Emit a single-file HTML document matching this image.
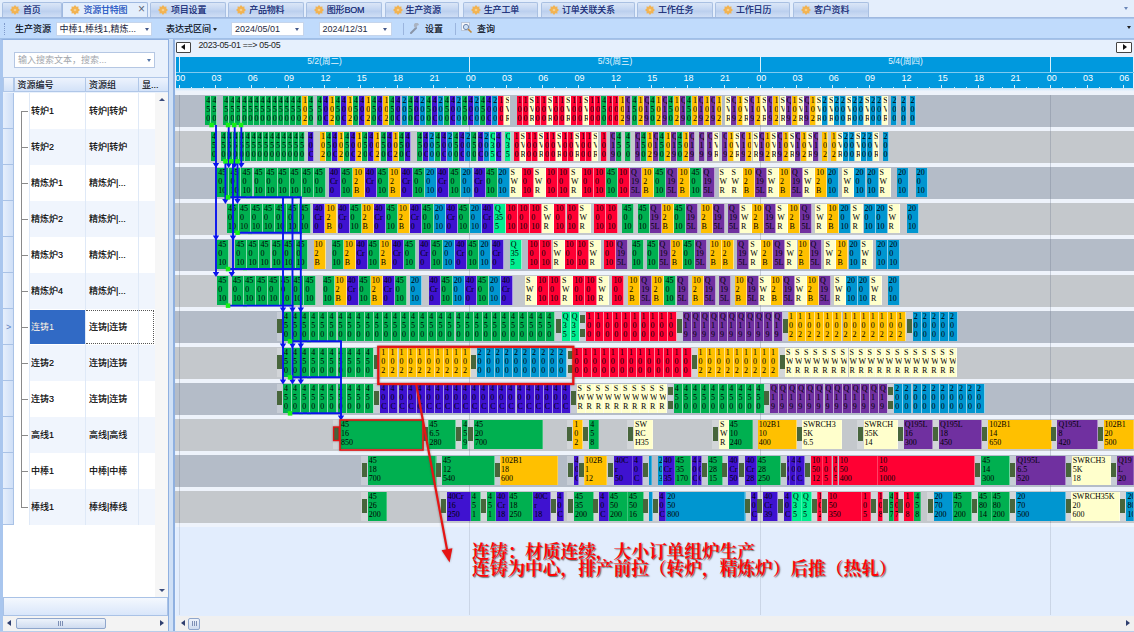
<!DOCTYPE html>
<html><head><meta charset="utf-8"><title>资源甘特图</title>
<style>
*{box-sizing:border-box;margin:0;padding:0}
html,body{width:1134px;height:632px;overflow:hidden;background:#cfe0f6;font-family:"Liberation Sans","Noto Sans CJK SC",sans-serif;font-size:9px;color:#1e2a44}
div,i,b,s,u,em,span{position:absolute}
i,em,u{font-style:normal;text-decoration:none}
/* tabs */
#tabs{left:0;top:0;width:1134px;height:18px;background:#e4eefc}
.tab{top:1.5px;height:16px;width:75.5px;background:linear-gradient(#dbe6f7,#c3d5f1 45%,#bbcfee 55%,#d3e1f6);border:1px solid #a9c0e2;border-bottom:none;border-radius:2px 2px 0 0;line-height:15px;white-space:nowrap}
.tab span{left:20px;top:0;font-size:9px;color:#1c2f78;letter-spacing:-.2px;text-shadow:0 0 .4px rgba(28,47,120,.7)}
.tab.act{background:#e3eefc;border-color:#9fb9e0;height:17px}
.tab.act span{color:#2a5fd0}
.sun{left:7px;top:2.5px;width:10px;height:10px}
#tabline{left:0;top:17px;width:1134px;height:1px;background:#9fb9e0}
/* toolbar */
#tb{left:0;top:17.5px;width:1134px;height:21px;background:#c0dbfc;border-bottom:1px solid #9fbfe8;border-top:1px solid #a9c4ea}
#tb span{top:0;line-height:21px;white-space:nowrap;font-size:9px;color:#141a2a;text-shadow:0 0 .4px rgba(0,0,0,.6)}
.cb{top:3px;height:14px;background:#fff;border:1px solid #c5d5ec;line-height:12px;font-size:9px;white-space:nowrap;overflow:hidden;padding-left:3px}
.arr{width:0;height:0;border-left:2.5px solid transparent;border-right:2.5px solid transparent;border-top:3px solid #44598a}
/* left panel */
#left{left:0;top:39px;width:169px;height:593px;background:#e9f1fc;border:1px solid #8fb0e0;border-left:3px solid #a9c6ee}
#grid{left:0;top:53px;width:165px;height:504px;background:#fff}
.gh{color:#141a2a;text-shadow:0 0 .4px rgba(0,0,0,.5);top:37px;height:15px;background:linear-gradient(#edf3fd,#d3e2f8);border:1px solid #b0c7e8;line-height:14px;padding-left:3px;font-size:9px;white-space:nowrap;overflow:hidden}
.ind{left:0;width:11px;height:36px;background:linear-gradient(90deg,#e6effc,#cfdff7);border-bottom:1px solid #a9c2e6;border-right:1px solid #a9c2e6}
.gr{left:11px;width:141px;height:36px;line-height:36px;font-size:9px;white-space:nowrap;color:#141414;text-shadow:0 0 .4px rgba(0,0,0,.6)}
.gr.alt{background:linear-gradient(90deg,transparent 14.5px,#f0f5fd 14.5px)}
.gr span{top:0}
.gr .c1{left:17px}.gr .c2{left:75px}
.cs{top:0;width:1px;height:432px;background:#dfe9f7}
/* gantt */
#g{left:173px;top:38.5px;width:961px;height:593.5px;background:#e6f0fd;border-left:2px solid #8fb0e0;border-top:1px solid #a9c2e6}
#page{left:0;top:0;width:1134px;height:632px;overflow:hidden}
#hd{left:175.5px;top:56.5px;width:957.5px;height:31.5px;background:#0099de;overflow:hidden}
#hdw{left:-175.5px;top:-56.5px;width:1134px;height:100px}
#hd s{background:rgba(255,255,255,.85);width:1px;text-decoration:none}
.t1{top:86.5px;height:1.5px}.t3{top:85px;height:3px}
.dl{top:57px;height:15.5px}
#hd u{top:74px;margin-left:.9px;width:20px;text-align:center;color:#fff;font-size:9px;line-height:9px}
#hd em{top:56.3px;width:80px;text-align:center;color:#e4f4fd;font-size:8.5px;line-height:10px}
#hsep{left:175.5px;top:72px;width:959px;height:1px;background:#7fcaf0}
#sub{left:175.5px;top:88px;width:959px;height:7px;background:linear-gradient(#bfe3f7,#e9f1fc 40%)}
.band{left:175px;width:959px;height:32px}
.gap{left:175.5px;width:959px;height:4px;background:#eef3fb}
.row{left:0;width:1134px;height:28.7px;overflow:hidden}
.row i{top:0;height:28.7px;font-family:"Liberation Serif",serif;font-size:8px;line-height:9.1px;color:#000;overflow:hidden;padding-left:1px;white-space:nowrap;border-right:1px solid rgba(255,255,255,.55)}
.wd{border-right-color:rgba(255,255,255,.25)!important}
.w6{width:6.05px}.w9{width:9.08px}.w12{width:12.05px}
.w6,.w9{padding-left:.8px}
.g{background:#00b050}.y{background:#ffc000}.p{background:#3f12d0}.c{background:#0096d0}.r{background:#ff0033}.l{background:#ffffcc}.d{background:#7030a0}.m{background:#00ee90}
.o{top:0;width:6.8px;height:28.7px;margin-left:-1.1px;background:linear-gradient(#47653b,#47653b) center 6.6px/5px 14.2px no-repeat,rgba(255,255,255,.24)}
.o2{background:linear-gradient(#47653b,#47653b) center 3px/5px 8px no-repeat,linear-gradient(#47653b,#47653b) center 17px/5px 8px no-repeat,rgba(255,255,255,.24)}
.vl{top:95px;width:1px;height:520px;background:linear-gradient(rgba(110,120,140,.32) 428px,rgba(110,120,140,.2) 428px);text-decoration:none}
#below{left:175.5px;top:523.5px;width:959px;height:92px;background:#e2edfd}
#sb{left:175.5px;top:615.5px;width:959px;height:15px;background:#f0f0f0}
#bot{left:0;top:630.5px;width:1134px;height:2px;background:#b9cdea}
#note{left:472px;top:543.5px;font-family:"Liberation Serif","Noto Serif CJK SC",serif;font-weight:700;font-size:17.7px;line-height:17.6px;color:#ff0505;white-space:nowrap;text-shadow:1px 1px 1.2px rgba(60,60,60,.8)}
.cj{font-family:"Liberation Sans","Noto Sans CJK SC",sans-serif}
</style></head><body><div id="page">
<div id="tabs"><div class="tab" style="left:2px;width:59.5px"><svg class="sun" style="position:absolute" viewBox="0 0 10 10"><path d="M10.0 5.0L8.3 6.4L8.5 8.5L6.4 8.3L5.0 10.0L3.6 8.3L1.5 8.5L1.7 6.4L0.0 5.0L1.7 3.6L1.5 1.5L3.6 1.7L5.0 0.0L6.4 1.7L8.5 1.5L8.3 3.6z" fill="#f2b352"/><circle cx="5" cy="5" r="1.3" fill="#f8cf8a"/></svg><span class="cj">首页</span></div><div class="tab act" style="left:62.4px;width:86px"><svg class="sun" style="position:absolute" viewBox="0 0 10 10"><path d="M10.0 5.0L8.3 6.4L8.5 8.5L6.4 8.3L5.0 10.0L3.6 8.3L1.5 8.5L1.7 6.4L0.0 5.0L1.7 3.6L1.5 1.5L3.6 1.7L5.0 0.0L6.4 1.7L8.5 1.5L8.3 3.6z" fill="#f2b352"/><circle cx="5" cy="5" r="1.3" fill="#f8cf8a"/></svg><span class="cj">资源甘特图</span><span style="left:74.5px;top:-.5px;color:#5a6478;font-size:12px;text-shadow:none">×</span></div><div class="tab" style="left:150px;width:75.5px"><svg class="sun" style="position:absolute" viewBox="0 0 10 10"><path d="M10.0 5.0L8.3 6.4L8.5 8.5L6.4 8.3L5.0 10.0L3.6 8.3L1.5 8.5L1.7 6.4L0.0 5.0L1.7 3.6L1.5 1.5L3.6 1.7L5.0 0.0L6.4 1.7L8.5 1.5L8.3 3.6z" fill="#f2b352"/><circle cx="5" cy="5" r="1.3" fill="#f8cf8a"/></svg><span class="cj">项目设置</span></div><div class="tab" style="left:228.2px;width:75.5px"><svg class="sun" style="position:absolute" viewBox="0 0 10 10"><path d="M10.0 5.0L8.3 6.4L8.5 8.5L6.4 8.3L5.0 10.0L3.6 8.3L1.5 8.5L1.7 6.4L0.0 5.0L1.7 3.6L1.5 1.5L3.6 1.7L5.0 0.0L6.4 1.7L8.5 1.5L8.3 3.6z" fill="#f2b352"/><circle cx="5" cy="5" r="1.3" fill="#f8cf8a"/></svg><span class="cj">产品物料</span></div><div class="tab" style="left:305.8px;width:76.5px"><svg class="sun" style="position:absolute" viewBox="0 0 10 10"><path d="M10.0 5.0L8.3 6.4L8.5 8.5L6.4 8.3L5.0 10.0L3.6 8.3L1.5 8.5L1.7 6.4L0.0 5.0L1.7 3.6L1.5 1.5L3.6 1.7L5.0 0.0L6.4 1.7L8.5 1.5L8.3 3.6z" fill="#f2b352"/><circle cx="5" cy="5" r="1.3" fill="#f8cf8a"/></svg><span class="cj">图形BOM</span></div><div class="tab" style="left:384.5px;width:74px"><svg class="sun" style="position:absolute" viewBox="0 0 10 10"><path d="M10.0 5.0L8.3 6.4L8.5 8.5L6.4 8.3L5.0 10.0L3.6 8.3L1.5 8.5L1.7 6.4L0.0 5.0L1.7 3.6L1.5 1.5L3.6 1.7L5.0 0.0L6.4 1.7L8.5 1.5L8.3 3.6z" fill="#f2b352"/><circle cx="5" cy="5" r="1.3" fill="#f8cf8a"/></svg><span class="cj">生产资源</span></div><div class="tab" style="left:462.8px;width:75.5px"><svg class="sun" style="position:absolute" viewBox="0 0 10 10"><path d="M10.0 5.0L8.3 6.4L8.5 8.5L6.4 8.3L5.0 10.0L3.6 8.3L1.5 8.5L1.7 6.4L0.0 5.0L1.7 3.6L1.5 1.5L3.6 1.7L5.0 0.0L6.4 1.7L8.5 1.5L8.3 3.6z" fill="#f2b352"/><circle cx="5" cy="5" r="1.3" fill="#f8cf8a"/></svg><span class="cj">生产工单</span></div><div class="tab" style="left:541px;width:93.6px"><svg class="sun" style="position:absolute" viewBox="0 0 10 10"><path d="M10.0 5.0L8.3 6.4L8.5 8.5L6.4 8.3L5.0 10.0L3.6 8.3L1.5 8.5L1.7 6.4L0.0 5.0L1.7 3.6L1.5 1.5L3.6 1.7L5.0 0.0L6.4 1.7L8.5 1.5L8.3 3.6z" fill="#f2b352"/><circle cx="5" cy="5" r="1.3" fill="#f8cf8a"/></svg><span class="cj">订单关联关系</span></div><div class="tab" style="left:637px;width:75.5px"><svg class="sun" style="position:absolute" viewBox="0 0 10 10"><path d="M10.0 5.0L8.3 6.4L8.5 8.5L6.4 8.3L5.0 10.0L3.6 8.3L1.5 8.5L1.7 6.4L0.0 5.0L1.7 3.6L1.5 1.5L3.6 1.7L5.0 0.0L6.4 1.7L8.5 1.5L8.3 3.6z" fill="#f2b352"/><circle cx="5" cy="5" r="1.3" fill="#f8cf8a"/></svg><span class="cj">工作任务</span></div><div class="tab" style="left:715px;width:75px"><svg class="sun" style="position:absolute" viewBox="0 0 10 10"><path d="M10.0 5.0L8.3 6.4L8.5 8.5L6.4 8.3L5.0 10.0L3.6 8.3L1.5 8.5L1.7 6.4L0.0 5.0L1.7 3.6L1.5 1.5L3.6 1.7L5.0 0.0L6.4 1.7L8.5 1.5L8.3 3.6z" fill="#f2b352"/><circle cx="5" cy="5" r="1.3" fill="#f8cf8a"/></svg><span class="cj">工作日历</span></div><div class="tab" style="left:793px;width:76px"><svg class="sun" style="position:absolute" viewBox="0 0 10 10"><path d="M10.0 5.0L8.3 6.4L8.5 8.5L6.4 8.3L5.0 10.0L3.6 8.3L1.5 8.5L1.7 6.4L0.0 5.0L1.7 3.6L1.5 1.5L3.6 1.7L5.0 0.0L6.4 1.7L8.5 1.5L8.3 3.6z" fill="#f2b352"/><circle cx="5" cy="5" r="1.3" fill="#f8cf8a"/></svg><span class="cj">客户资料</span></div><div class="arr" style="left:1123.5px;top:7px;border-top-color:#6a86b8"></div></div><div id="tabline"></div>
<div id="tb">
<div style="left:4px;top:4px;width:1px;height:12px;border-left:1px dotted #7f9acb"></div>
<span class="cj" style="left:15px">生产资源</span>
<div class="cb cj" style="left:55.5px;width:96px;line-height:13.4px">中棒1,棒线1,精炼...</div><div class="arr" style="left:145px;top:9px"></div>
<span class="cj" style="left:166px">表达式区间</span><div class="arr" style="left:213px;top:9px;border-top-color:#222"></div>
<div class="cb" style="left:231px;width:72.5px">2024/05/01</div><div class="arr" style="left:295px;top:9px"></div>
<div class="cb" style="left:318.5px;width:73px">2024/12/31</div><div class="arr" style="left:383px;top:9px"></div>
<div style="left:403px;top:4px;width:1px;height:12px;background:#9bb5de"></div>
<svg style="position:absolute;left:410px;top:4px" width="11" height="11" viewBox="0 0 11 11"><path d="M1 10L6 5" stroke="#8a95a8" stroke-width="2" stroke-linecap="round"/><path d="M6 5a2.6 2.6 0 1 1 3-3l-1.6.4-.6 1.4z" fill="#aab3c2"/></svg>
<span class="cj" style="left:425px">设置</span>
<div style="left:454.5px;top:4px;width:1px;height:12px;background:#9bb5de"></div>
<svg style="position:absolute;left:461px;top:3px" width="12" height="12" viewBox="0 0 12 12"><rect x=".5" y=".5" width="8" height="8" fill="#f4f6fa" stroke="#9aa6ba" stroke-dasharray="1 1"/><circle cx="5" cy="5" r="2.6" fill="#cfe2f7" stroke="#6f86ad"/><path d="M7 7l3.5 3.5" stroke="#c08a3a" stroke-width="1.6"/></svg>
<span class="cj" style="left:477px">查询</span>
<div class="arr" style="left:1127px;top:7.5px;border-top-color:#222"></div>
</div>
<div id="left"><div style="left:11px;top:12px;width:141px;height:15.5px;background:#fff;border:1px solid #b5c7e3;line-height:14.4px;padding-left:3px;color:#a3a7ad;font-size:9px;white-space:nowrap" class="cj">输入搜索文本，搜索...</div><div class="arr" style="left:144px;top:19px;border-top-color:#5577aa"></div><div class="gh" style="left:0;width:11px"></div><div class="gh cj" style="left:10.5px;width:72.5px">资源编号</div><div class="gh cj" style="left:82px;width:54px">资源组</div><div class="gh cj" style="left:135px;width:30px;border-right:none">显...</div><div id="grid"><div class="ind" style="top:0px"></div><div class="gr" style="top:0px"><span class="c1 cj">转炉1</span><span class="c2 cj">转炉|转炉</span></div><div class="ind" style="top:36px"></div><div class="gr alt" style="top:36px"><span class="c1 cj">转炉2</span><span class="c2 cj">转炉|转炉</span></div><div class="ind" style="top:72px"></div><div class="gr" style="top:72px"><span class="c1 cj">精炼炉1</span><span class="c2 cj">精炼炉|...</span></div><div class="ind" style="top:108px"></div><div class="gr alt" style="top:108px"><span class="c1 cj">精炼炉2</span><span class="c2 cj">精炼炉|...</span></div><div class="ind" style="top:144px"></div><div class="gr" style="top:144px"><span class="c1 cj">精炼炉3</span><span class="c2 cj">精炼炉|...</span></div><div class="ind" style="top:180px"></div><div class="gr alt" style="top:180px"><span class="c1 cj">精炼炉4</span><span class="c2 cj">精炼炉|...</span></div><div class="ind" style="top:216px"></div><div class="gr" style="top:216px"><div style="left:14.5px;top:1px;width:57px;height:34px;background:#316ac5"></div><div style="left:71.5px;top:1px;width:68.5px;height:34px;background:#fff;border:1px dotted #555;border-left:none"></div><span class="c1 cj" style="color:#fff">连铸1</span><span class="c2 cj">连铸|连铸</span></div><div class="ind" style="top:252px"></div><div class="gr alt" style="top:252px"><span class="c1 cj">连铸2</span><span class="c2 cj">连铸|连铸</span></div><div class="ind" style="top:288px"></div><div class="gr" style="top:288px"><span class="c1 cj">连铸3</span><span class="c2 cj">连铸|连铸</span></div><div class="ind" style="top:324px"></div><div class="gr alt" style="top:324px"><span class="c1 cj">高线1</span><span class="c2 cj">高线|高线</span></div><div class="ind" style="top:360px"></div><div class="gr" style="top:360px"><span class="c1 cj">中棒1</span><span class="c2 cj">中棒|中棒</span></div><div class="ind" style="top:396px"></div><div class="gr alt" style="top:396px"><span class="c1 cj">棒线1</span><span class="c2 cj">棒线|棒线</span></div><div class="cs" style="left:25.5px"></div><div class="cs" style="left:82px"></div><div class="cs" style="left:135px"></div><div style="left:18px;top:18px;width:1px;height:396px;background:#8a8a8a"></div><div style="left:18px;top:18px;width:7px;height:1px;background:#8a8a8a"></div><div style="left:18px;top:54px;width:7px;height:1px;background:#8a8a8a"></div><div style="left:18px;top:90px;width:7px;height:1px;background:#8a8a8a"></div><div style="left:18px;top:126px;width:7px;height:1px;background:#8a8a8a"></div><div style="left:18px;top:162px;width:7px;height:1px;background:#8a8a8a"></div><div style="left:18px;top:198px;width:7px;height:1px;background:#8a8a8a"></div><div style="left:18px;top:234px;width:7px;height:1px;background:#8a8a8a"></div><div style="left:18px;top:270px;width:7px;height:1px;background:#8a8a8a"></div><div style="left:18px;top:306px;width:7px;height:1px;background:#8a8a8a"></div><div style="left:18px;top:342px;width:7px;height:1px;background:#8a8a8a"></div><div style="left:18px;top:378px;width:7px;height:1px;background:#8a8a8a"></div><div style="left:18px;top:414px;width:7px;height:1px;background:#8a8a8a"></div><span style="left:3px;top:229px;color:#5b7fc0;font-size:9px">&gt;</span><div style="left:152px;top:0;width:13px;height:504px;background:#f6f6f6"></div><div style="left:155.5px;top:5px;width:0;height:0;border-left:3px solid transparent;border-right:3px solid transparent;border-bottom:3.5px solid #3a4a7a"></div><div style="left:155.5px;top:496px;width:0;height:0;border-left:3px solid transparent;border-right:3px solid transparent;border-top:3.5px solid #3a4a7a"></div></div><div style="left:0;top:557px;width:165px;height:19px;background:linear-gradient(#f4f8fe,#d9e6fa);border:1px solid #a9c2e6"></div><div style="left:0;top:576px;width:165px;height:15px;background:#f3f3f3"></div><div style="left:13px;top:577.5px;width:90px;height:11px;background:linear-gradient(#eef3fb,#cfdcf0);border:1px solid #8fa6cc;border-radius:2px"></div><div style="left:55px;top:580.5px;width:5px;height:5px;background:repeating-linear-gradient(90deg,#7d8fb5 0 1px,transparent 1px 2px)"></div><div style="left:4px;top:579.5px;width:0;height:0;border-top:3.5px solid transparent;border-bottom:3.5px solid transparent;border-right:4px solid #2f3f6f"></div><div style="left:157px;top:579.5px;width:0;height:0;border-top:3.5px solid transparent;border-bottom:3.5px solid transparent;border-left:4px solid #2f3f6f"></div></div>
<div id="g"></div>
<div id="hd"><div id="hdw">
<s class="t3" style="left:178.8px"></s>
<u style="left:169.3px">00</u>
<s class="t1" style="left:190.9px"></s>
<s class="t1" style="left:203px"></s>
<s class="t3" style="left:215.1px"></s>
<u style="left:205.6px">03</u>
<s class="t1" style="left:227.2px"></s>
<s class="t1" style="left:239.3px"></s>
<s class="t3" style="left:251.4px"></s>
<u style="left:241.9px">06</u>
<s class="t1" style="left:263.5px"></s>
<s class="t1" style="left:275.6px"></s>
<s class="t3" style="left:287.7px"></s>
<u style="left:278.2px">09</u>
<s class="t1" style="left:299.8px"></s>
<s class="t1" style="left:311.9px"></s>
<s class="t3" style="left:324px"></s>
<u style="left:314.5px">12</u>
<s class="t1" style="left:336.2px"></s>
<s class="t1" style="left:348.3px"></s>
<s class="t3" style="left:360.4px"></s>
<u style="left:350.9px">15</u>
<s class="t1" style="left:372.5px"></s>
<s class="t1" style="left:384.6px"></s>
<s class="t3" style="left:396.7px"></s>
<u style="left:387.2px">18</u>
<s class="t1" style="left:408.8px"></s>
<s class="t1" style="left:420.9px"></s>
<s class="t3" style="left:433px"></s>
<u style="left:423.5px">21</u>
<s class="t1" style="left:445.1px"></s>
<s class="t1" style="left:457.2px"></s>
<s class="t3" style="left:469.3px"></s>
<u style="left:459.8px">00</u>
<s class="t1" style="left:481.4px"></s>
<s class="t1" style="left:493.5px"></s>
<s class="t3" style="left:505.6px"></s>
<u style="left:496.1px">03</u>
<s class="t1" style="left:517.7px"></s>
<s class="t1" style="left:529.8px"></s>
<s class="t3" style="left:541.9px"></s>
<u style="left:532.4px">06</u>
<s class="t1" style="left:554px"></s>
<s class="t1" style="left:566.1px"></s>
<s class="t3" style="left:578.2px"></s>
<u style="left:568.7px">09</u>
<s class="t1" style="left:590.3px"></s>
<s class="t1" style="left:602.4px"></s>
<s class="t3" style="left:614.5px"></s>
<u style="left:605px">12</u>
<s class="t1" style="left:626.6px"></s>
<s class="t1" style="left:638.8px"></s>
<s class="t3" style="left:650.9px"></s>
<u style="left:641.4px">15</u>
<s class="t1" style="left:663px"></s>
<s class="t1" style="left:675.1px"></s>
<s class="t3" style="left:687.2px"></s>
<u style="left:677.7px">18</u>
<s class="t1" style="left:699.3px"></s>
<s class="t1" style="left:711.4px"></s>
<s class="t3" style="left:723.5px"></s>
<u style="left:714px">21</u>
<s class="t1" style="left:735.6px"></s>
<s class="t1" style="left:747.7px"></s>
<s class="t3" style="left:759.8px"></s>
<u style="left:750.3px">00</u>
<s class="t1" style="left:771.9px"></s>
<s class="t1" style="left:784px"></s>
<s class="t3" style="left:796.1px"></s>
<u style="left:786.6px">03</u>
<s class="t1" style="left:808.2px"></s>
<s class="t1" style="left:820.3px"></s>
<s class="t3" style="left:832.4px"></s>
<u style="left:822.9px">06</u>
<s class="t1" style="left:844.5px"></s>
<s class="t1" style="left:856.6px"></s>
<s class="t3" style="left:868.7px"></s>
<u style="left:859.2px">09</u>
<s class="t1" style="left:880.8px"></s>
<s class="t1" style="left:892.9px"></s>
<s class="t3" style="left:905px"></s>
<u style="left:895.5px">12</u>
<s class="t1" style="left:917.1px"></s>
<s class="t1" style="left:929.2px"></s>
<s class="t3" style="left:941.4px"></s>
<u style="left:931.9px">15</u>
<s class="t1" style="left:953.5px"></s>
<s class="t1" style="left:965.6px"></s>
<s class="t3" style="left:977.7px"></s>
<u style="left:968.2px">18</u>
<s class="t1" style="left:989.8px"></s>
<s class="t1" style="left:1001.9px"></s>
<s class="t3" style="left:1014px"></s>
<u style="left:1004.5px">21</u>
<s class="t1" style="left:1026.1px"></s>
<s class="t1" style="left:1038.2px"></s>
<s class="t3" style="left:1050.3px"></s>
<u style="left:1040.8px">00</u>
<s class="t1" style="left:1062.4px"></s>
<s class="t1" style="left:1074.5px"></s>
<s class="t3" style="left:1086.6px"></s>
<u style="left:1077.1px">03</u>
<s class="t1" style="left:1098.7px"></s>
<s class="t1" style="left:1110.8px"></s>
<s class="t3" style="left:1122.9px"></s>
<u style="left:1113.4px">06</u>
<s class="dl" style="left:178.8px"></s>
<em class="cj" style="left:284.5px">5/2(周二)</em>
<s class="dl" style="left:469.3px"></s>
<em class="cj" style="left:575px">5/3(周三)</em>
<s class="dl" style="left:759.8px"></s>
<em class="cj" style="left:865.5px">5/4(周四)</em>
<s class="dl" style="left:1050.3px"></s>
</div></div>
<div id="hsep"></div>
<div id="sub"></div>
<div style="left:176px;top:41.8px;width:15.3px;height:11px;background:#fff;border:1px solid #444;border-radius:1px"></div>
<div style="left:181px;top:44.3px;width:0;height:0;border-top:3px solid transparent;border-bottom:3px solid transparent;border-right:4px solid #111"></div>
<div style="left:1116.2px;top:41.8px;width:15.5px;height:11px;background:#fff;border:1px solid #444;border-radius:1px"></div>
<div style="left:1122.5px;top:44.3px;width:0;height:0;border-top:3px solid transparent;border-bottom:3px solid transparent;border-left:4px solid #111"></div>
<span style="left:198.5px;top:40px;font-size:8.8px;letter-spacing:-.3px;line-height:10px;color:#222;white-space:nowrap">2023-05-01 ==&gt; 05-05</span>
<div id="below"></div>
<div class="gap" style="top:91px"></div><div class="gap" style="top:127px"></div><div class="gap" style="top:163px"></div><div class="gap" style="top:199px"></div><div class="gap" style="top:235px"></div><div class="gap" style="top:271px"></div><div class="gap" style="top:307px"></div><div class="gap" style="top:343px"></div><div class="gap" style="top:379px"></div><div class="gap" style="top:415px"></div><div class="gap" style="top:451px"></div><div class="gap" style="top:487px"></div><div class="gap" style="top:523px"></div><div class="band" style="top:95px;background:#b4bcc8"></div><div class="band" style="top:131px;background:#c4c8cc"></div><div class="band" style="top:167px;background:#b4bcc8"></div><div class="band" style="top:203px;background:#c4c8cc"></div><div class="band" style="top:239px;background:#b4bcc8"></div><div class="band" style="top:275px;background:#c4c8cc"></div><div class="band" style="top:311px;background:#b4bcc8"></div><div class="band" style="top:347px;background:#c4c8cc"></div><div class="band" style="top:383px;background:#b4bcc8"></div><div class="band" style="top:419px;background:#c4c8cc"></div><div class="band" style="top:455px;background:#b4bcc8"></div><div class="band" style="top:491px;background:#c4c8cc"></div><s class="vl" style="left:178.8px"></s><s class="vl" style="left:469.3px"></s><s class="vl" style="left:759.8px"></s><s class="vl" style="left:1050.3px"></s>
<div class="row" style="top:96.2px"><i class="g w6" style="left:205.3px">4<br>5<br>0</i><i class="g w6" style="left:211.4px">4<br>5<br>0</i><i class="g w6" style="left:223.3px">4<br>5<br>0</i><i class="g w6" style="left:229.4px">4<br>5<br>0</i><i class="g w6" style="left:235.4px">4<br>5<br>0</i><i class="g w6" style="left:241.5px">4<br>5<br>0</i><i class="g w6" style="left:247.5px">4<br>5<br>0</i><i class="g w6" style="left:253.6px">4<br>5<br>0</i><i class="g w6" style="left:259.6px">4<br>5<br>0</i><i class="g w6" style="left:265.7px">4<br>5<br>0</i><i class="g w6" style="left:271.7px">4<br>5<br>0</i><i class="g w6" style="left:277.8px">4<br>5<br>0</i><i class="g w6" style="left:283.8px">4<br>5<br>0</i><i class="g w6" style="left:289.9px">4<br>5<br>0</i><i class="g w6" style="left:295.9px">4<br>5<br>0</i><i class="y w6" style="left:301.9px">1<br>0<br>2</i><i class="g w6" style="left:308px">4<br>5<br>0</i><i class="g w6" style="left:316.8px">4<br>5<br>0</i><i class="p w6" style="left:322.9px">4<br>0<br>C</i><i class="y w6" style="left:328.9px">1<br>0<br>2</i><i class="g w6" style="left:334.9px">4<br>5<br>0</i><i class="p w6" style="left:341px">4<br>0<br>C</i><i class="y w6" style="left:347.1px">1<br>0<br>2</i><i class="g w6" style="left:353.1px">4<br>5<br>0</i><i class="p w6" style="left:359.2px">4<br>0<br>C</i><i class="y w6" style="left:365.2px">1<br>0<br>2</i><i class="g w6" style="left:371.2px">4<br>5<br>0</i><i class="p w6" style="left:377.3px">4<br>0<br>C</i><i class="y w6" style="left:383.4px">1<br>0<br>2</i><i class="g w6" style="left:389.4px">4<br>5<br>0</i><i class="p w6" style="left:395.4px">4<br>0<br>C</i><i class="c w6" style="left:401.5px">2<br>0<br>0</i><i class="g w6" style="left:407.6px">4<br>5<br>0</i><i class="p w6" style="left:413.6px">4<br>0<br>C</i><i class="c w6" style="left:419.6px">2<br>0<br>0</i><i class="g w6" style="left:425.7px">4<br>5<br>0</i><i class="p w6" style="left:431.8px">4<br>0<br>C</i><i class="c w6" style="left:437.8px">2<br>0<br>0</i><i class="g w6" style="left:443.9px">4<br>5<br>0</i><i class="p w6" style="left:449.9px">4<br>0<br>C</i><i class="c w6" style="left:456px">2<br>0<br>0</i><i class="g w6" style="left:462px">4<br>5<br>0</i><i class="p w6" style="left:468.1px">4<br>0<br>C</i><i class="c w6" style="left:474.1px">2<br>0<br>0</i><i class="g w6" style="left:480.1px">4<br>5<br>0</i><i class="p w6" style="left:486.2px">4<br>0<br>C</i><i class="c w6" style="left:492.2px">2<br>0<br>0</i><i class="r w6" style="left:498.3px">1<br>0<br>0</i><i class="l w6" style="left:504.4px">S<br>V<br>R</i><i class="r w6" style="left:516.5px">1<br>0<br>0</i><i class="r w6" style="left:522.5px">1<br>0<br>0</i><i class="l w6" style="left:528.6px">S<br>V<br>R</i><i class="r w6" style="left:534.6px">1<br>0<br>0</i><i class="r w6" style="left:540.7px">1<br>0<br>0</i><i class="l w6" style="left:546.8px">S<br>V<br>R</i><i class="r w6" style="left:552.8px">1<br>0<br>0</i><i class="r w6" style="left:558.9px">1<br>0<br>0</i><i class="l w6" style="left:564.9px">S<br>V<br>R</i><i class="r w6" style="left:571px">1<br>0<br>0</i><i class="r w6" style="left:577px">1<br>0<br>0</i><i class="l w6" style="left:583px">S<br>V<br>R</i><i class="r w6" style="left:589.1px">1<br>0<br>0</i><i class="r w6" style="left:595.1px">1<br>0<br>0</i><i class="g w6" style="left:601.2px">4<br>5<br>0</i><i class="r w6" style="left:607.2px">1<br>0<br>0</i><i class="r w6" style="left:613.3px">1<br>0<br>0</i><i class="y w6" style="left:619.4px">1<br>0<br>2</i><i class="d w6" style="left:625.4px">Q<br>1<br>9</i><i class="g w6" style="left:631.5px">4<br>5<br>0</i><i class="y w6" style="left:637.5px">1<br>0<br>2</i><i class="d w6" style="left:643.5px">Q<br>1<br>9</i><i class="g w6" style="left:649.6px">4<br>5<br>0</i><i class="y w6" style="left:655.6px">1<br>0<br>2</i><i class="d w6" style="left:661.7px">Q<br>1<br>9</i><i class="g w6" style="left:667.8px">4<br>5<br>0</i><i class="y w6" style="left:673.8px">1<br>0<br>2</i><i class="d w6" style="left:679.9px">Q<br>1<br>9</i><i class="g w6" style="left:685.9px">4<br>5<br>0</i><i class="y w6" style="left:692px">1<br>0<br>2</i><i class="d w6" style="left:698px">Q<br>1<br>9</i><i class="y w6" style="left:704px">1<br>0<br>2</i><i class="d w6" style="left:710.1px">Q<br>1<br>9</i><i class="y w6" style="left:716.1px">1<br>0<br>2</i><i class="l w6" style="left:725px">S<br>V<br>R</i><i class="d w6" style="left:731px">Q<br>1<br>9</i><i class="y w6" style="left:737.1px">1<br>0<br>2</i><i class="l w6" style="left:743.1px">S<br>V<br>R</i><i class="d w6" style="left:749.2px">Q<br>1<br>9</i><i class="y w6" style="left:755.2px">1<br>0<br>2</i><i class="l w6" style="left:761.3px">S<br>V<br>R</i><i class="d w6" style="left:767.4px">Q<br>1<br>9</i><i class="y w6" style="left:773.4px">1<br>0<br>2</i><i class="l w6" style="left:779.5px">S<br>V<br>R</i><i class="d w6" style="left:785.5px">Q<br>1<br>9</i><i class="y w6" style="left:791.5px">1<br>0<br>2</i><i class="l w6" style="left:797.6px">S<br>V<br>R</i><i class="d w6" style="left:803.6px">Q<br>1<br>9</i><i class="y w6" style="left:809.7px">1<br>0<br>2</i><i class="l w6" style="left:815.8px">S<br>V<br>R</i><i class="c w6" style="left:821.8px">2<br>0<br>0</i><i class="l w6" style="left:827.9px">S<br>V<br>R</i><i class="c w6" style="left:833.9px">2<br>0<br>0</i><i class="c w6" style="left:840px">2<br>0<br>0</i><i class="l w6" style="left:846px">S<br>V<br>R</i><i class="c w6" style="left:852px">2<br>0<br>0</i><i class="c w6" style="left:858.1px">2<br>0<br>0</i><i class="l w6" style="left:864.1px">S<br>V<br>R</i><i class="c w6" style="left:870.2px">2<br>0<br>0</i><i class="c w6" style="left:876.2px">2<br>0<br>0</i><i class="l w6" style="left:882.3px">S<br>V<br>R</i><i class="c w6" style="left:891.4px">2<br>0<br>0</i><i class="c w6" style="left:900.5px">2<br>0<br>0</i><i class="c w6" style="left:909.6px">2<br>0<br>0</i></div>
<div class="row" style="top:132.2px"><i class="g w6" style="left:211px">4<br>5<br>0</i><i class="g w6" style="left:220.5px">4<br>5<br>0</i><i class="g w6" style="left:226.6px">4<br>5<br>0</i><i class="g w6" style="left:232.6px">4<br>5<br>0</i><i class="g w6" style="left:238.7px">4<br>5<br>0</i><i class="g w6" style="left:244.7px">4<br>5<br>0</i><i class="g w6" style="left:250.8px">4<br>5<br>0</i><i class="g w6" style="left:256.8px">4<br>5<br>0</i><i class="g w6" style="left:262.9px">4<br>5<br>0</i><i class="g w6" style="left:268.9px">4<br>5<br>0</i><i class="g w6" style="left:274.9px">4<br>5<br>0</i><i class="g w6" style="left:281px">4<br>5<br>0</i><i class="g w6" style="left:287.1px">4<br>5<br>0</i><i class="g w6" style="left:293.1px">4<br>5<br>0</i><i class="g w6" style="left:299.1px">4<br>5<br>0</i><i class="p w6" style="left:307.7px">4<br>0<br>C</i><i class="y w6" style="left:320px">1<br>0<br>2</i><i class="g w6" style="left:326.1px">4<br>5<br>0</i><i class="p w6" style="left:332.1px">4<br>0<br>C</i><i class="y w6" style="left:338.1px">1<br>0<br>2</i><i class="g w6" style="left:344.2px">4<br>5<br>0</i><i class="p w6" style="left:350.2px">4<br>0<br>C</i><i class="y w6" style="left:356.3px">1<br>0<br>2</i><i class="g w6" style="left:362.4px">4<br>5<br>0</i><i class="p w6" style="left:368.4px">4<br>0<br>C</i><i class="y w6" style="left:374.4px">1<br>0<br>2</i><i class="g w6" style="left:380.5px">4<br>5<br>0</i><i class="p w6" style="left:386.6px">4<br>0<br>C</i><i class="y w6" style="left:392.6px">1<br>0<br>2</i><i class="g w6" style="left:398.6px">4<br>5<br>0</i><i class="p w6" style="left:404.7px">4<br>0<br>C</i><i class="g w6" style="left:417px">4<br>5<br>0</i><i class="p w6" style="left:423.1px">4<br>0<br>C</i><i class="c w6" style="left:429.1px">2<br>0<br>0</i><i class="g w6" style="left:435.1px">4<br>5<br>0</i><i class="p w6" style="left:441.2px">4<br>0<br>C</i><i class="c w6" style="left:447.2px">2<br>0<br>0</i><i class="g w6" style="left:453.3px">4<br>5<br>0</i><i class="p w6" style="left:459.4px">4<br>0<br>C</i><i class="c w6" style="left:465.4px">2<br>0<br>0</i><i class="g w6" style="left:471.4px">4<br>5<br>0</i><i class="p w6" style="left:477.5px">4<br>0<br>C</i><i class="c w6" style="left:483.6px">2<br>0<br>0</i><i class="m w6" style="left:489.6px">Q<br>3<br>5</i><i class="p w6" style="left:495.6px">4<br>0<br>C</i><i class="m w6" style="left:504.7px">Q<br>3<br>5</i><i class="r w6" style="left:513.6px">1<br>0<br>0</i><i class="l w6" style="left:519.6px">S<br>V<br>R</i><i class="r w6" style="left:525.7px">1<br>0<br>0</i><i class="r w6" style="left:531.8px">1<br>0<br>0</i><i class="l w6" style="left:537.8px">S<br>V<br>R</i><i class="r w6" style="left:543.9px">1<br>0<br>0</i><i class="r w6" style="left:549.9px">1<br>0<br>0</i><i class="l w6" style="left:556px">S<br>V<br>R</i><i class="r w6" style="left:562px">1<br>0<br>0</i><i class="r w6" style="left:568.1px">1<br>0<br>0</i><i class="l w6" style="left:574.1px">S<br>V<br>R</i><i class="r w6" style="left:580.1px">1<br>0<br>0</i><i class="r w6" style="left:586.2px">1<br>0<br>0</i><i class="l w6" style="left:592.2px">S<br>V<br>R</i><i class="r w6" style="left:600.8px">1<br>0<br>0</i><i class="d w6" style="left:609.9px">Q<br>1<br>9</i><i class="g w6" style="left:615.9px">4<br>5<br>0</i><i class="g w6" style="left:625px">4<br>5<br>0</i><i class="d w6" style="left:634.6px">Q<br>1<br>9</i><i class="g w6" style="left:640.6px">4<br>5<br>0</i><i class="y w6" style="left:646.7px">1<br>0<br>2</i><i class="d w6" style="left:652.8px">Q<br>1<br>9</i><i class="g w6" style="left:658.8px">4<br>5<br>0</i><i class="y w6" style="left:664.9px">1<br>0<br>2</i><i class="d w6" style="left:670.9px">Q<br>1<br>9</i><i class="g w6" style="left:677px">4<br>5<br>0</i><i class="y w6" style="left:683px">1<br>0<br>2</i><i class="d w6" style="left:689.1px">Q<br>1<br>9</i><i class="d w6" style="left:698.5px">Q<br>1<br>9</i><i class="d w6" style="left:707px">Q<br>1<br>9</i><i class="l w6" style="left:713px">S<br>V<br>R</i><i class="d w6" style="left:722.2px">Q<br>1<br>9</i><i class="y w6" style="left:728.2px">1<br>0<br>2</i><i class="l w6" style="left:734.3px">S<br>V<br>R</i><i class="d w6" style="left:740.4px">Q<br>1<br>9</i><i class="y w6" style="left:746.4px">1<br>0<br>2</i><i class="l w6" style="left:752.5px">S<br>V<br>R</i><i class="d w6" style="left:758.5px">Q<br>1<br>9</i><i class="y w6" style="left:764.6px">1<br>0<br>2</i><i class="l w6" style="left:770.6px">S<br>V<br>R</i><i class="d w6" style="left:776.7px">Q<br>1<br>9</i><i class="y w6" style="left:782.7px">1<br>0<br>2</i><i class="l w6" style="left:788.8px">S<br>V<br>R</i><i class="d w6" style="left:794.8px">Q<br>1<br>9</i><i class="y w6" style="left:800.9px">1<br>0<br>2</i><i class="l w6" style="left:806.9px">S<br>V<br>R</i><i class="d w6" style="left:813px">Q<br>1<br>9</i><i class="y w6" style="left:821.9px">1<br>0<br>2</i><i class="y w6" style="left:830.8px">1<br>0<br>2</i><i class="l w6" style="left:836.8px">S<br>V<br>R</i><i class="c w6" style="left:842.9px">2<br>0<br>0</i><i class="c w6" style="left:848.9px">2<br>0<br>0</i><i class="l w6" style="left:855px">S<br>V<br>R</i><i class="c w6" style="left:861px">2<br>0<br>0</i><i class="c w6" style="left:867.1px">2<br>0<br>0</i><i class="l w6" style="left:873.1px">S<br>V<br>R</i><i class="c w6" style="left:882.5px">2<br>0<br>0</i></div>
<div class="row" style="top:168.2px"><i class="g w12" style="left:217.3px">45<br>0<br>10</i><i class="g w12" style="left:229.4px">45<br>0<br>10</i><i class="g w12" style="left:241.4px">45<br>0<br>10</i><i class="g w12" style="left:253.5px">45<br>0<br>10</i><i class="g w12" style="left:265.5px">45<br>0<br>10</i><i class="g w12" style="left:277.6px">45<br>0<br>10</i><i class="g w12" style="left:289.6px">45<br>0<br>10</i><i class="g w12" style="left:301.7px">45<br>0<br>10</i><i class="g w12" style="left:313.7px">45<br>0<br>10</i><i class="p w12" style="left:328.9px">40<br>Cr<br>0</i><i class="g w12" style="left:340.9px">45<br>0<br>10</i><i class="y w12" style="left:353px">10<br>2<br>B</i><i class="p w12" style="left:365px">40<br>Cr<br>0</i><i class="g w12" style="left:377.1px">45<br>0<br>10</i><i class="y w12" style="left:389.1px">10<br>2<br>B</i><i class="p w12" style="left:401.2px">40<br>Cr<br>0</i><i class="g w12" style="left:413.2px">45<br>0<br>10</i><i class="c w12" style="left:425.3px">20<br>0<br>10</i><i class="p w12" style="left:437.3px">40<br>Cr<br>0</i><i class="g w12" style="left:449.4px">45<br>0<br>10</i><i class="c w12" style="left:461.4px">20<br>0<br>10</i><i class="p w12" style="left:473.5px">40<br>Cr<br>0</i><i class="g w12" style="left:485.5px">45<br>0<br>10</i><i class="c w12" style="left:497.6px">20<br>0<br>10</i><i class="l w12" style="left:509.6px">S<br>W<br>R</i><i class="r w12" style="left:521.7px">10<br>0<br>10</i><i class="l w12" style="left:533.8px">S<br>W<br>R</i><i class="r w12" style="left:545.8px">10<br>0<br>10</i><i class="r w12" style="left:557.9px">10<br>0<br>10</i><i class="l w12" style="left:569.9px">S<br>W<br>R</i><i class="r w12" style="left:582px">10<br>0<br>10</i><i class="r w12" style="left:594px">10<br>0<br>10</i><i class="g w12" style="left:606px">45<br>0<br>10</i><i class="r w12" style="left:618.1px">10<br>0<br>10</i><i class="d w12" style="left:630.1px">Q<br>19<br>5L</i><i class="y w12" style="left:642.2px">10<br>2<br>B</i><i class="g w12" style="left:654.2px">45<br>0<br>10</i><i class="d w12" style="left:666.3px">Q<br>19<br>5L</i><i class="y w12" style="left:678.4px">10<br>2<br>B</i><i class="g w12" style="left:690.4px">45<br>0<br>10</i><i class="d w12" style="left:702.5px">Q<br>19<br>5L</i><i class="l w12" style="left:718.6px">S<br>W<br>R</i><i class="l w12" style="left:730.6px">S<br>W<br>R</i><i class="y w12" style="left:742.7px">10<br>2<br>B</i><i class="d w12" style="left:754.8px">Q<br>19<br>5L</i><i class="l w12" style="left:766.8px">S<br>W<br>R</i><i class="y w12" style="left:778.9px">10<br>2<br>B</i><i class="d w12" style="left:790.9px">Q<br>19<br>5L</i><i class="l w12" style="left:803px">S<br>W<br>R</i><i class="y w12" style="left:815px">10<br>2<br>B</i><i class="c w12" style="left:827.1px">20<br>0<br>10</i><i class="l w12" style="left:842.4px">S<br>W<br>R</i><i class="c w12" style="left:854.4px">20<br>0<br>10</i><i class="c w12" style="left:866.5px">20<br>0<br>10</i><i class="l w12" style="left:878.5px">S<br>W<br>R</i><i class="c w12" style="left:896.9px">20<br>0<br>10</i><i class="c w12" style="left:915.7px">20<br>0<br>10</i></div>
<div class="row" style="top:204.2px"><i class="g w12" style="left:227px">45<br>0<br>10</i><i class="g w12" style="left:239.1px">45<br>0<br>10</i><i class="g w12" style="left:251.1px">45<br>0<br>10</i><i class="g w12" style="left:263.1px">45<br>0<br>10</i><i class="g w12" style="left:275.2px">45<br>0<br>10</i><i class="g w12" style="left:287.2px">45<br>0<br>10</i><i class="g w12" style="left:299.3px">45<br>0<br>10</i><i class="p w12" style="left:313.4px">40<br>Cr<br>0</i><i class="y w12" style="left:325.4px">10<br>2<br>B</i><i class="p w12" style="left:337.5px">40<br>Cr<br>0</i><i class="g w12" style="left:349.5px">45<br>0<br>10</i><i class="y w12" style="left:361.6px">10<br>2<br>B</i><i class="p w12" style="left:373.6px">40<br>Cr<br>0</i><i class="g w12" style="left:385.7px">45<br>0<br>10</i><i class="y w12" style="left:397.8px">10<br>2<br>B</i><i class="p w12" style="left:409.8px">40<br>Cr<br>0</i><i class="g w12" style="left:421.8px">45<br>0<br>10</i><i class="c w12" style="left:433.9px">20<br>0<br>10</i><i class="p w12" style="left:445.9px">40<br>Cr<br>0</i><i class="g w12" style="left:458px">45<br>0<br>10</i><i class="c w12" style="left:470px">20<br>0<br>10</i><i class="p w12" style="left:482.1px">40<br>Cr<br>0</i><i class="m w12" style="left:494.1px">Q<br>35<br>5</i><i class="r w12" style="left:506.2px">10<br>0<br>10</i><i class="r w12" style="left:518.2px">10<br>0<br>10</i><i class="r w12" style="left:530.3px">10<br>0<br>10</i><i class="l w12" style="left:542.4px">S<br>W<br>R</i><i class="r w12" style="left:554.4px">10<br>0<br>10</i><i class="r w12" style="left:566.5px">10<br>0<br>10</i><i class="l w12" style="left:578.5px">S<br>W<br>R</i><i class="r w12" style="left:594.4px">10<br>0<br>10</i><i class="r w12" style="left:606.4px">10<br>0<br>10</i><i class="g w12" style="left:622.4px">45<br>0<br>10</i><i class="g w12" style="left:637.5px">45<br>0<br>10</i><i class="d w12" style="left:649.5px">Q<br>19<br>5L</i><i class="y w12" style="left:661.6px">10<br>2<br>B</i><i class="g w12" style="left:673.6px">45<br>0<br>10</i><i class="d w12" style="left:685.7px">Q<br>19<br>5L</i><i class="y w12" style="left:700.6px">10<br>2<br>B</i><i class="d w12" style="left:712.6px">Q<br>19<br>5L</i><i class="d w12" style="left:728.1px">Q<br>19<br>5L</i><i class="l w12" style="left:740.1px">S<br>W<br>R</i><i class="y w12" style="left:752.2px">10<br>2<br>B</i><i class="d w12" style="left:764.2px">Q<br>19<br>5L</i><i class="l w12" style="left:776.3px">S<br>W<br>R</i><i class="y w12" style="left:788.4px">10<br>2<br>B</i><i class="d w12" style="left:800.4px">Q<br>19<br>5L</i><i class="l w12" style="left:815.3px">S<br>W<br>R</i><i class="y w12" style="left:827.3px">10<br>2<br>B</i><i class="c w12" style="left:839.4px">20<br>0<br>10</i><i class="l w12" style="left:851.4px">S<br>W<br>R</i><i class="c w12" style="left:863.5px">20<br>0<br>10</i><i class="c w12" style="left:875.5px">20<br>0<br>10</i><i class="l w12" style="left:887.6px">S<br>W<br>R</i><i class="c w12" style="left:906.9px">20<br>0<br>10</i></div>
<div class="row" style="top:240.2px"><i class="g w12" style="left:217.3px">45<br>0<br>10</i><i class="g w12" style="left:235.3px">45<br>0<br>10</i><i class="g w12" style="left:247.4px">45<br>0<br>10</i><i class="g w12" style="left:259.4px">45<br>0<br>10</i><i class="g w12" style="left:271.5px">45<br>0<br>10</i><i class="g w12" style="left:283.5px">45<br>0<br>10</i><i class="g w12" style="left:295.6px">45<br>0<br>10</i><i class="y w12" style="left:313.6px">10<br>2<br>B</i><i class="g w12" style="left:331.6px">45<br>0<br>10</i><i class="y w12" style="left:343.7px">10<br>2<br>B</i><i class="p w12" style="left:355.7px">40<br>Cr<br>0</i><i class="g w12" style="left:367.8px">45<br>0<br>10</i><i class="y w12" style="left:379.8px">10<br>2<br>B</i><i class="p w12" style="left:391.9px">40<br>Cr<br>0</i><i class="g w12" style="left:403.9px">45<br>0<br>10</i><i class="p w12" style="left:419.2px">40<br>Cr<br>0</i><i class="g w12" style="left:431.2px">45<br>0<br>10</i><i class="c w12" style="left:443.3px">20<br>0<br>10</i><i class="p w12" style="left:455.4px">40<br>Cr<br>0</i><i class="g w12" style="left:467.4px">45<br>0<br>10</i><i class="c w12" style="left:479.4px">20<br>0<br>10</i><i class="p w12" style="left:491.5px">40<br>Cr<br>0</i><i class="m w12" style="left:509.8px">Q<br>35<br>5</i><i class="r w12" style="left:528.4px">10<br>0<br>10</i><i class="r w12" style="left:540.4px">10<br>0<br>10</i><i class="l w12" style="left:552.5px">S<br>W<br>R</i><i class="r w12" style="left:564.5px">10<br>0<br>10</i><i class="r w12" style="left:576.6px">10<br>0<br>10</i><i class="l w12" style="left:588.6px">S<br>W<br>R</i><i class="r w12" style="left:604px">10<br>0<br>10</i><i class="d w12" style="left:616px">Q<br>19<br>5L</i><i class="g w12" style="left:631.5px">45<br>0<br>10</i><i class="g w12" style="left:646.6px">45<br>0<br>10</i><i class="d w12" style="left:658.6px">Q<br>19<br>5L</i><i class="y w12" style="left:670.7px">10<br>2<br>B</i><i class="g w12" style="left:682.8px">45<br>0<br>10</i><i class="d w12" style="left:694.8px">Q<br>19<br>5L</i><i class="y w12" style="left:709.5px">10<br>2<br>B</i><i class="y w12" style="left:721.5px">10<br>2<br>B</i><i class="d w12" style="left:737.2px">Q<br>19<br>5L</i><i class="l w12" style="left:749.2px">S<br>W<br>R</i><i class="y w12" style="left:761.3px">10<br>2<br>B</i><i class="d w12" style="left:773.4px">Q<br>19<br>5L</i><i class="l w12" style="left:785.4px">S<br>W<br>R</i><i class="y w12" style="left:797.5px">10<br>2<br>B</i><i class="d w12" style="left:809.5px">Q<br>19<br>5L</i><i class="l w12" style="left:824.4px">S<br>W<br>R</i><i class="y w12" style="left:836.4px">10<br>2<br>B</i><i class="c w12" style="left:848.5px">20<br>0<br>10</i><i class="l w12" style="left:860.5px">S<br>W<br>R</i><i class="c w12" style="left:876.2px">20<br>0<br>10</i><i class="c w12" style="left:888.2px">20<br>0<br>10</i></div>
<div class="row" style="top:276.2px"><i class="g w12" style="left:217.3px">45<br>0<br>10</i><i class="g w12" style="left:232.1px">45<br>0<br>10</i><i class="g w12" style="left:244.2px">45<br>0<br>10</i><i class="g w12" style="left:256.2px">45<br>0<br>10</i><i class="g w12" style="left:268.2px">45<br>0<br>10</i><i class="g w12" style="left:280.3px">45<br>0<br>10</i><i class="g w12" style="left:292.4px">45<br>0<br>10</i><i class="g w12" style="left:304.4px">45<br>0<br>10</i><i class="g w12" style="left:322.5px">45<br>0<br>10</i><i class="y w12" style="left:334.6px">10<br>2<br>B</i><i class="p w12" style="left:346.6px">40<br>Cr<br>0</i><i class="g w12" style="left:358.6px">45<br>0<br>10</i><i class="y w12" style="left:370.7px">10<br>2<br>B</i><i class="p w12" style="left:382.8px">40<br>Cr<br>0</i><i class="g w12" style="left:394.8px">45<br>0<br>10</i><i class="c w12" style="left:410px">20<br>0<br>10</i><i class="p w12" style="left:428.7px">40<br>Cr<br>0</i><i class="g w12" style="left:440.8px">45<br>0<br>10</i><i class="c w12" style="left:452.8px">20<br>0<br>10</i><i class="p w12" style="left:464.9px">40<br>Cr<br>0</i><i class="g w12" style="left:476.9px">45<br>0<br>10</i><i class="c w12" style="left:488.9px">20<br>0<br>10</i><i class="p w12" style="left:501px">40<br>Cr<br>0</i><i class="l w12" style="left:525px">S<br>W<br>R</i><i class="r w12" style="left:537px">10<br>0<br>10</i><i class="r w12" style="left:549.1px">10<br>0<br>10</i><i class="l w12" style="left:561.1px">S<br>W<br>R</i><i class="r w12" style="left:573.2px">10<br>0<br>10</i><i class="r w12" style="left:585.2px">10<br>0<br>10</i><i class="l w12" style="left:597.3px">S<br>W<br>R</i><i class="r w12" style="left:612.4px">10<br>0<br>10</i><i class="y w12" style="left:628.3px">10<br>2<br>B</i><i class="d w12" style="left:640.3px">Q<br>19<br>5L</i><i class="y w12" style="left:652.4px">10<br>2<br>B</i><i class="g w12" style="left:664.4px">45<br>0<br>10</i><i class="d w12" style="left:676.5px">Q<br>19<br>5L</i><i class="y w12" style="left:691.7px">10<br>2<br>B</i><i class="d w12" style="left:703.8px">Q<br>19<br>5L</i><i class="d w12" style="left:719px">Q<br>19<br>5L</i><i class="y w12" style="left:734.5px">10<br>2<br>B</i><i class="d w12" style="left:746.5px">Q<br>19<br>5L</i><i class="l w12" style="left:758.6px">S<br>W<br>R</i><i class="y w12" style="left:770.6px">10<br>2<br>B</i><i class="d w12" style="left:782.7px">Q<br>19<br>5L</i><i class="l w12" style="left:794.8px">S<br>W<br>R</i><i class="y w12" style="left:806.8px">10<br>2<br>B</i><i class="d w12" style="left:818.9px">Q<br>19<br>5L</i><i class="l w12" style="left:834px">S<br>W<br>R</i><i class="c w12" style="left:846px">20<br>0<br>10</i><i class="c w12" style="left:858.1px">20<br>0<br>10</i><i class="l w12" style="left:870.1px">S<br>W<br>R</i><i class="c w12" style="left:887.8px">20<br>0<br>10</i></div>
<div class="row" style="top:312.2px"><i class="g w9" style="left:283px">4<br>5<br>0</i><i class="g w9" style="left:292.1px">4<br>5<br>0</i><i class="g w9" style="left:301.2px">4<br>5<br>0</i><i class="g w9" style="left:310.2px">4<br>5<br>0</i><i class="g w9" style="left:319.3px">4<br>5<br>0</i><i class="g w9" style="left:328.4px">4<br>5<br>0</i><i class="g w9" style="left:337.5px">4<br>5<br>0</i><i class="g w9" style="left:346.6px">4<br>5<br>0</i><i class="g w9" style="left:355.6px">4<br>5<br>0</i><i class="g w9" style="left:364.7px">4<br>5<br>0</i><i class="g w9" style="left:373.8px">4<br>5<br>0</i><i class="g w9" style="left:382.9px">4<br>5<br>0</i><i class="g w9" style="left:392px">4<br>5<br>0</i><i class="g w9" style="left:401px">4<br>5<br>0</i><i class="g w9" style="left:410.1px">4<br>5<br>0</i><i class="g w9" style="left:419.2px">4<br>5<br>0</i><i class="g w9" style="left:428.3px">4<br>5<br>0</i><i class="g w9" style="left:437.4px">4<br>5<br>0</i><i class="g w9" style="left:446.4px">4<br>5<br>0</i><i class="g w9" style="left:455.5px">4<br>5<br>0</i><i class="g w9" style="left:464.6px">4<br>5<br>0</i><i class="g w9" style="left:473.7px">4<br>5<br>0</i><i class="g w9" style="left:482.8px">4<br>5<br>0</i><i class="g w9" style="left:491.8px">4<br>5<br>0</i><i class="g w9" style="left:500.9px">4<br>5<br>0</i><i class="g w9" style="left:510px">4<br>5<br>0</i><i class="g w9" style="left:519.1px">4<br>5<br>0</i><i class="g w9" style="left:528.2px">4<br>5<br>0</i><i class="g w9" style="left:537.2px">4<br>5<br>0</i><i class="g w9" style="left:546.3px">4<br>5<br>0</i><i class="m w9" style="left:561.7px">Q<br>3<br>5</i><i class="m w9" style="left:570.8px">Q<br>3<br>5</i><i class="r w9" style="left:586px">1<br>0<br>0</i><i class="r w9" style="left:595.1px">1<br>0<br>0</i><i class="r w9" style="left:604.2px">1<br>0<br>0</i><i class="r w9" style="left:613.2px">1<br>0<br>0</i><i class="r w9" style="left:622.3px">1<br>0<br>0</i><i class="r w9" style="left:631.4px">1<br>0<br>0</i><i class="r w9" style="left:640.5px">1<br>0<br>0</i><i class="r w9" style="left:649.6px">1<br>0<br>0</i><i class="r w9" style="left:658.6px">1<br>0<br>0</i><i class="r w9" style="left:667.7px">1<br>0<br>0</i><i class="d w9" style="left:682.7px">Q<br>1<br>9</i><i class="d w9" style="left:691.8px">Q<br>1<br>9</i><i class="d w9" style="left:700.9px">Q<br>1<br>9</i><i class="d w9" style="left:709.9px">Q<br>1<br>9</i><i class="d w9" style="left:719px">Q<br>1<br>9</i><i class="d w9" style="left:728.1px">Q<br>1<br>9</i><i class="d w9" style="left:737.2px">Q<br>1<br>9</i><i class="d w9" style="left:746.3px">Q<br>1<br>9</i><i class="d w9" style="left:755.3px">Q<br>1<br>9</i><i class="d w9" style="left:764.4px">Q<br>1<br>9</i><i class="d w9" style="left:773.5px">Q<br>1<br>9</i><i class="y w9" style="left:788px">1<br>0<br>2</i><i class="y w9" style="left:797.1px">1<br>0<br>2</i><i class="y w9" style="left:806.2px">1<br>0<br>2</i><i class="y w9" style="left:815.2px">1<br>0<br>2</i><i class="y w9" style="left:824.3px">1<br>0<br>2</i><i class="y w9" style="left:833.4px">1<br>0<br>2</i><i class="y w9" style="left:842.5px">1<br>0<br>2</i><i class="y w9" style="left:851.6px">1<br>0<br>2</i><i class="y w9" style="left:860.6px">1<br>0<br>2</i><i class="y w9" style="left:869.7px">1<br>0<br>2</i><i class="y w9" style="left:878.8px">1<br>0<br>2</i><i class="y w9" style="left:887.9px">1<br>0<br>2</i><i class="y w9" style="left:897px">1<br>0<br>2</i><i class="c w9" style="left:912.7px">2<br>0<br>0</i><i class="c w9" style="left:921.8px">2<br>0<br>0</i><i class="c w9" style="left:930.9px">2<br>0<br>0</i><i class="c w9" style="left:939.9px">2<br>0<br>0</i><i class="c w9" style="left:949px">2<br>0<br>0</i><b class="o" style="left:277.7px"></b><b class="o" style="left:556.5px"></b><b class="o" style="left:677.3px"></b><b class="o" style="left:783px"></b><b class="o" style="left:907px"></b><b class="o o2" style="left:580.2px"></b></div>
<div class="row" style="top:348.2px"><i class="g w9" style="left:283px">4<br>5<br>0</i><i class="g w9" style="left:292.1px">4<br>5<br>0</i><i class="g w9" style="left:301.2px">4<br>5<br>0</i><i class="g w9" style="left:310.2px">4<br>5<br>0</i><i class="g w9" style="left:319.3px">4<br>5<br>0</i><i class="g w9" style="left:328.4px">4<br>5<br>0</i><i class="g w9" style="left:337.5px">4<br>5<br>0</i><i class="g w9" style="left:346.6px">4<br>5<br>0</i><i class="g w9" style="left:355.6px">4<br>5<br>0</i><i class="g w9" style="left:364.7px">4<br>5<br>0</i><i class="y w9" style="left:380.3px">1<br>0<br>2</i><i class="y w9" style="left:389.4px">1<br>0<br>2</i><i class="y w9" style="left:398.5px">1<br>0<br>2</i><i class="y w9" style="left:407.5px">1<br>0<br>2</i><i class="y w9" style="left:416.6px">1<br>0<br>2</i><i class="y w9" style="left:425.7px">1<br>0<br>2</i><i class="y w9" style="left:434.8px">1<br>0<br>2</i><i class="y w9" style="left:443.9px">1<br>0<br>2</i><i class="y w9" style="left:452.9px">1<br>0<br>2</i><i class="y w9" style="left:462px">1<br>0<br>2</i><i class="c w9" style="left:476.6px">2<br>0<br>0</i><i class="c w9" style="left:485.7px">2<br>0<br>0</i><i class="c w9" style="left:494.8px">2<br>0<br>0</i><i class="c w9" style="left:503.8px">2<br>0<br>0</i><i class="c w9" style="left:512.9px">2<br>0<br>0</i><i class="c w9" style="left:522px">2<br>0<br>0</i><i class="c w9" style="left:531.1px">2<br>0<br>0</i><i class="c w9" style="left:540.2px">2<br>0<br>0</i><i class="c w9" style="left:549.2px">2<br>0<br>0</i><i class="c w9" style="left:558.3px">2<br>0<br>0</i><i class="r w9" style="left:573.5px">1<br>0<br>0</i><i class="r w9" style="left:582.6px">1<br>0<br>0</i><i class="r w9" style="left:591.7px">1<br>0<br>0</i><i class="r w9" style="left:600.7px">1<br>0<br>0</i><i class="r w9" style="left:609.8px">1<br>0<br>0</i><i class="r w9" style="left:618.9px">1<br>0<br>0</i><i class="r w9" style="left:628px">1<br>0<br>0</i><i class="r w9" style="left:637.1px">1<br>0<br>0</i><i class="r w9" style="left:646.1px">1<br>0<br>0</i><i class="r w9" style="left:655.2px">1<br>0<br>0</i><i class="r w9" style="left:664.3px">1<br>0<br>0</i><i class="r w9" style="left:673.4px">1<br>0<br>0</i><i class="r w9" style="left:682.5px">1<br>0<br>0</i><i class="y w9" style="left:697.5px">1<br>0<br>2</i><i class="y w9" style="left:706.6px">1<br>0<br>2</i><i class="y w9" style="left:715.7px">1<br>0<br>2</i><i class="y w9" style="left:724.7px">1<br>0<br>2</i><i class="y w9" style="left:733.8px">1<br>0<br>2</i><i class="y w9" style="left:742.9px">1<br>0<br>2</i><i class="y w9" style="left:752px">1<br>0<br>2</i><i class="y w9" style="left:761.1px">1<br>0<br>2</i><i class="y w9" style="left:770.1px">1<br>0<br>2</i><i class="l w9" style="left:784.9px">S<br>W<br>R</i><i class="l w9" style="left:794px">S<br>W<br>R</i><i class="l w9" style="left:803.1px">S<br>W<br>R</i><i class="l w9" style="left:812.1px">S<br>W<br>R</i><i class="l w9" style="left:821.2px">S<br>W<br>R</i><i class="l w9" style="left:830.3px">S<br>W<br>R</i><i class="l w9" style="left:839.4px">S<br>W<br>R</i><i class="l w9" style="left:848.5px">S<br>W<br>R</i><i class="l w9" style="left:857.5px">S<br>W<br>R</i><i class="l w9" style="left:866.6px">S<br>W<br>R</i><i class="l w9" style="left:875.7px">S<br>W<br>R</i><i class="l w9" style="left:884.8px">S<br>W<br>R</i><i class="l w9" style="left:893.9px">S<br>W<br>R</i><i class="l w9" style="left:902.9px">S<br>W<br>R</i><i class="l w9" style="left:912px">S<br>W<br>R</i><i class="l w9" style="left:921.1px">S<br>W<br>R</i><i class="l w9" style="left:930.2px">S<br>W<br>R</i><i class="l w9" style="left:939.3px">S<br>W<br>R</i><i class="l w9" style="left:948.3px">S<br>W<br>R</i><b class="o" style="left:277.7px"></b><b class="o" style="left:374.2px"></b><b class="o" style="left:471.5px"></b><b class="o" style="left:692px"></b><b class="o" style="left:779.8px"></b><b class="o o2" style="left:567.8px"></b></div>
<div class="row" style="top:384.2px"><i class="g w9" style="left:283px">4<br>5<br>0</i><i class="g w9" style="left:292.1px">4<br>5<br>0</i><i class="g w9" style="left:301.2px">4<br>5<br>0</i><i class="g w9" style="left:310.2px">4<br>5<br>0</i><i class="g w9" style="left:319.3px">4<br>5<br>0</i><i class="g w9" style="left:328.4px">4<br>5<br>0</i><i class="g w9" style="left:337.5px">4<br>5<br>0</i><i class="g w9" style="left:346.6px">4<br>5<br>0</i><i class="g w9" style="left:355.6px">4<br>5<br>0</i><i class="g w9" style="left:364.7px">4<br>5<br>0</i><i class="p w9" style="left:380.3px">4<br>0<br>C</i><i class="p w9" style="left:389.4px">4<br>0<br>C</i><i class="p w9" style="left:398.5px">4<br>0<br>C</i><i class="p w9" style="left:407.5px">4<br>0<br>C</i><i class="p w9" style="left:416.6px">4<br>0<br>C</i><i class="p w9" style="left:425.7px">4<br>0<br>C</i><i class="p w9" style="left:434.8px">4<br>0<br>C</i><i class="p w9" style="left:443.9px">4<br>0<br>C</i><i class="p w9" style="left:452.9px">4<br>0<br>C</i><i class="p w9" style="left:462px">4<br>0<br>C</i><i class="p w9" style="left:471.1px">4<br>0<br>C</i><i class="p w9" style="left:480.2px">4<br>0<br>C</i><i class="p w9" style="left:489.3px">4<br>0<br>C</i><i class="p w9" style="left:498.3px">4<br>0<br>C</i><i class="p w9" style="left:507.4px">4<br>0<br>C</i><i class="p w9" style="left:516.5px">4<br>0<br>C</i><i class="p w9" style="left:525.6px">4<br>0<br>C</i><i class="p w9" style="left:534.7px">4<br>0<br>C</i><i class="p w9" style="left:543.7px">4<br>0<br>C</i><i class="p w9" style="left:552.8px">4<br>0<br>C</i><i class="p w9" style="left:561.9px">4<br>0<br>C</i><i class="l w9" style="left:576.5px">S<br>W<br>R</i><i class="l w9" style="left:585.6px">S<br>W<br>R</i><i class="l w9" style="left:594.7px">S<br>W<br>R</i><i class="l w9" style="left:603.7px">S<br>W<br>R</i><i class="l w9" style="left:612.8px">S<br>W<br>R</i><i class="l w9" style="left:621.9px">S<br>W<br>R</i><i class="l w9" style="left:631px">S<br>W<br>R</i><i class="l w9" style="left:640.1px">S<br>W<br>R</i><i class="l w9" style="left:649.1px">S<br>W<br>R</i><i class="l w9" style="left:658.2px">S<br>W<br>R</i><i class="g w9" style="left:673.8px">4<br>5<br>0</i><i class="g w9" style="left:682.9px">4<br>5<br>0</i><i class="g w9" style="left:692px">4<br>5<br>0</i><i class="g w9" style="left:701px">4<br>5<br>0</i><i class="g w9" style="left:710.1px">4<br>5<br>0</i><i class="g w9" style="left:719.2px">4<br>5<br>0</i><i class="g w9" style="left:728.3px">4<br>5<br>0</i><i class="g w9" style="left:737.4px">4<br>5<br>0</i><i class="g w9" style="left:746.4px">4<br>5<br>0</i><i class="g w9" style="left:755.5px">4<br>5<br>0</i><i class="d w9" style="left:770px">Q<br>1<br>9</i><i class="d w9" style="left:779.1px">Q<br>1<br>9</i><i class="d w9" style="left:788.2px">Q<br>1<br>9</i><i class="d w9" style="left:797.2px">Q<br>1<br>9</i><i class="d w9" style="left:806.3px">Q<br>1<br>9</i><i class="d w9" style="left:815.4px">Q<br>1<br>9</i><i class="d w9" style="left:824.5px">Q<br>1<br>9</i><i class="d w9" style="left:833.6px">Q<br>1<br>9</i><i class="d w9" style="left:842.6px">Q<br>1<br>9</i><i class="d w9" style="left:851.7px">Q<br>1<br>9</i><i class="d w9" style="left:860.8px">Q<br>1<br>9</i><i class="d w9" style="left:869.9px">Q<br>1<br>9</i><i class="d w9" style="left:879px">Q<br>1<br>9</i><i class="c w9" style="left:894.3px">2<br>0<br>0</i><i class="c w9" style="left:903.4px">2<br>0<br>0</i><i class="c w9" style="left:912.5px">2<br>0<br>0</i><i class="c w9" style="left:921.5px">2<br>0<br>0</i><i class="c w9" style="left:930.6px">2<br>0<br>0</i><i class="c w9" style="left:939.7px">2<br>0<br>0</i><i class="c w9" style="left:948.8px">2<br>0<br>0</i><i class="c w9" style="left:957.9px">2<br>0<br>0</i><i class="c w9" style="left:966.9px">2<br>0<br>0</i><i class="c w9" style="left:976px">2<br>0<br>0</i><b class="o" style="left:277.7px"></b><b class="o" style="left:374.2px"></b><b class="o" style="left:570.8px"></b><b class="o" style="left:764.6px"></b><b class="o o2" style="left:667.8px"></b><b class="o o2" style="left:888.5px"></b></div>
<div class="row" style="top:420.2px"><i class="g wd" style="left:340.1px;width:83.7px">45<br>16<br>850</i><i class="g wd" style="left:428.4px;width:27.7px">45<br>6.5<br>280</i><i class="g wd" style="left:462.3px;width:5.9px">4<br>5<br>9</i><i class="g wd" style="left:474.1px;width:68.6px">45<br>20<br>700</i><i class="y wd" style="left:573.3px;width:10.2px">1<br>0<br>2</i><i class="g wd" style="left:589.2px;width:10.2px">4<br>5<br>8</i><i class="l wd" style="left:634px;width:19.3px">SW<br>RC<br>H35</i><i class="l wd" style="left:718.9px;width:10px">S<br>W<br>R</i><i class="g wd" style="left:728.8px;width:23.8px">45<br>10<br>240</i><i class="y wd" style="left:757.8px;width:39.3px">102B1<br>10<br>400</i><i class="l wd" style="left:802.2px;width:39.9px">SWRCH3<br>5K<br>6.5</i><i class="l wd" style="left:863.6px;width:34.4px">SWRCH<br>35K<br>14</i><i class="d wd" style="left:903.8px;width:29.3px">Q195L<br>16<br>300</i><i class="d wd" style="left:939.1px;width:43.4px">Q195L<br>18<br>450</i><i class="y wd" style="left:988.2px;width:63.5px">102B1<br>14<br>650</i><i class="d wd" style="left:1057.4px;width:40.5px">Q195L<br>8<br>420</i><i class="y wd" style="left:1103.5px;width:30.5px">102B1<br>20<br>500</i><b class="o" style="left:333.8px"></b><b class="o" style="left:423.3px"></b><b class="o" style="left:456px"></b><b class="o" style="left:468.2px"></b><b class="o" style="left:567.6px"></b><b class="o" style="left:583.5px"></b><b class="o" style="left:628.3px"></b><b class="o" style="left:713px"></b><b class="o" style="left:797px"></b><b class="o" style="left:858px"></b><b class="o" style="left:898px"></b><b class="o" style="left:933px"></b><b class="o" style="left:982.5px"></b><b class="o" style="left:1051.7px"></b><b class="o" style="left:1097.8px"></b></div>
<div class="row" style="top:456.2px"><i class="g wd" style="left:367.8px;width:68.8px">45<br>18<br>700</i><i class="g wd" style="left:441.9px;width:52.9px">45<br>12<br>540</i><i class="y wd" style="left:500px;width:58.3px">102B1<br>18<br>600</i><i class="p wd" style="left:573.9px;width:4.9px">4<br>0<br>C</i><i class="y wd" style="left:584px;width:23.4px">102B<br>1<br>12</i><i class="p wd" style="left:614.1px;width:19.1px">40C<br>r<br>50</i><i class="p wd" style="left:633.1px;width:9.8px">4<br>0<br>C</i><i class="c wd" style="left:649px;width:3.4px"></i><i class="c wd" style="left:658px;width:5.1px">2<br>0<br>3</i><i class="p wd" style="left:662.8px;width:12.3px">40<br>Cr<br>35</i><i class="g wd" style="left:675px;width:16.4px">45<br>35<br>170</i><i class="p wd" style="left:691.6px;width:6.1px">4<br>0<br>C</i><i class="p wd" style="left:697.7px;width:4.4px">4<br>0<br>C</i><i class="g wd" style="left:707.9px;width:14.8px">45<br>28<br>15</i><i class="p wd" style="left:728.4px;width:10.8px">40<br>Cr<br>50</i><i class="p wd" style="left:745.3px;width:11.9px">40<br>Cr<br>28</i><i class="g wd" style="left:757px;width:23.9px">45<br>28<br>250</i><i class="p wd" style="left:786.8px;width:3.6px">4<br>0<br>C</i><i class="p wd" style="left:790.4px;width:6px">4<br>0<br>C</i><i class="p wd" style="left:796.3px;width:8.7px">4<br>0<br>C</i><i class="r wd" style="left:810.9px;width:12.3px">10<br>50<br>12</i><i class="r wd" style="left:823.1px;width:9px">1<br>0<br>5</i><i class="r wd" style="left:832.7px;width:5.7px">1<br>0<br>5</i><i class="r wd" style="left:838.8px;width:39.4px">10<br>50<br>400</i><i class="r wd" style="left:878.2px;width:96.7px">10<br>50<br>1000</i><i class="g wd" style="left:981.2px;width:29.1px">45<br>14<br>300</i><i class="d wd" style="left:1016.3px;width:50.2px">Q195L<br>6.5<br>520</i><i class="l wd" style="left:1071.8px;width:39.6px">SWRCH3<br>5K<br>18</i><i class="d wd" style="left:1116.9px;width:17.1px">Q19<br>L<br>20</i><b class="o" style="left:362.5px"></b><b class="o" style="left:436.2px"></b><b class="o" style="left:494.8px"></b><b class="o" style="left:567.8px"></b><b class="o" style="left:578.8px"></b><b class="o" style="left:608px"></b><b class="o" style="left:642.9px"></b><b class="o" style="left:702px"></b><b class="o" style="left:722.7px"></b><b class="o" style="left:739.2px"></b><b class="o" style="left:781.3px"></b><b class="o" style="left:805.2px"></b><b class="o" style="left:975.3px"></b><b class="o" style="left:1010.4px"></b><b class="o" style="left:1066.5px"></b><b class="o" style="left:1111.4px"></b></div>
<div class="row" style="top:492.2px"><i class="g wd" style="left:367.8px;width:19.7px">45<br>26<br>200</i><i class="p wd" style="left:446.7px;width:24.4px">40Cr<br>16<br>250</i><i class="g wd" style="left:470.9px;width:10.2px">4<br>5<br>1</i><i class="g wd" style="left:487px;width:9.3px">4<br>5<br>1</i><i class="p wd" style="left:496.3px;width:12.3px">40<br>Cr<br>18</i><i class="g wd" style="left:508.5px;width:24.9px">45<br>18<br>250</i><i class="p wd" style="left:533.3px;width:17.6px">40C<br>r<br>18</i><i class="p wd" style="left:556.6px;width:7.7px">4<br>0<br>C</i><i class="g wd" style="left:573.9px;width:19.7px">45<br>35<br>200</i><i class="p wd" style="left:599.3px;width:9.8px">4<br>0<br>C</i><i class="g wd" style="left:609px;width:18.9px">45<br>50<br>200</i><i class="g wd" style="left:627.9px;width:15.9px">45<br>50<br>16</i><i class="c wd" style="left:649.2px;width:3.7px"></i><i class="p wd" style="left:658.5px;width:7.5px">4<br>0<br>C</i><i class="c wd" style="left:666.2px;width:79.4px">20<br>50<br>800</i><i class="p wd" style="left:750.8px;width:6.8px">4<br>0<br>C</i><i class="p wd" style="left:763.3px;width:15.1px">40<br>Cr<br>39</i><i class="p wd" style="left:784px;width:7.9px">4<br>0<br>C</i><i class="m wd" style="left:791.9px;width:10.2px">Q<br>3<br>5</i><i class="m wd" style="left:802px;width:9.5px">Q<br>3<br>5</i><i class="r wd" style="left:817.2px;width:4.9px">1<br>0<br>2</i><i class="r wd" style="left:827.8px;width:33.9px">10<br>50<br>350</i><i class="r wd" style="left:862px;width:9.2px">1<br>0<br>5</i><i class="r wd" style="left:877.5px;width:5.4px">1<br>0<br>8</i><i class="g wd" style="left:888.8px;width:5.1px">4<br>5<br>7</i><i class="r wd" style="left:893.8px;width:4.9px">1<br>0<br>7</i><i class="r wd" style="left:904.4px;width:9.6px">1<br>0<br>8</i><i class="g wd" style="left:914.2px;width:6.8px">4<br>5<br>8</i><i class="c wd" style="left:933.6px;width:19.1px">20<br>70<br>200</i><i class="g wd" style="left:952.7px;width:19.5px">45<br>70<br>200</i><i class="g wd" style="left:978px;width:13.9px">45<br>80<br>14</i><i class="g wd" style="left:991.8px;width:18.5px">45<br>80<br>200</i><i class="c wd" style="left:1016.3px;width:49.8px">20<br>70<br>500</i><i class="l wd" style="left:1071.4px;width:49.1px">SWRCH35K<br>20<br>600</i><i class="c wd" style="left:1126.4px;width:7.6px">20<br>80<br>10</i><b class="o" style="left:362.5px"></b><b class="o" style="left:440.8px"></b><b class="o" style="left:481px"></b><b class="o" style="left:550.9px"></b><b class="o" style="left:567.8px"></b><b class="o" style="left:593.6px"></b><b class="o" style="left:643.7px"></b><b class="o" style="left:652.8px"></b><b class="o" style="left:745.3px"></b><b class="o" style="left:757.6px"></b><b class="o" style="left:778.3px"></b><b class="o" style="left:812px"></b><b class="o" style="left:822.5px"></b><b class="o" style="left:871.6px"></b><b class="o" style="left:882.8px"></b><b class="o" style="left:898.7px"></b><b class="o" style="left:927.9px"></b><b class="o" style="left:972.4px"></b><b class="o" style="left:1010.4px"></b><b class="o" style="left:1066px"></b><b class="o" style="left:1120.5px"></b></div>
<div id="sb"></div>
<div style="left:181px;top:619.5px;width:0;height:0;border-top:3.5px solid transparent;border-bottom:3.5px solid transparent;border-right:4px solid #2f3f6f"></div>
<div style="left:188px;top:617.5px;width:12px;height:12px;background:linear-gradient(#eef3fb,#cfdcf0);border:1px solid #8fa6cc;border-radius:2px"></div>
<div style="left:191.5px;top:621px;width:5px;height:5px;background:repeating-linear-gradient(90deg,#7d8fb5 0 1px,transparent 1px 2px)"></div>
<div style="left:1126px;top:619.5px;width:0;height:0;border-top:3.5px solid transparent;border-bottom:3.5px solid transparent;border-left:4px solid #2f3f6f"></div><svg style="position:absolute;left:0;top:0" width="1134" height="632" viewBox="0 0 1134 632"><g fill="#7be08a"><rect x="246" y="196.3" width="4" height="2.5"/><rect x="293" y="196.3" width="4" height="2.5"/><rect x="237" y="231.8" width="4" height="2.5"/><rect x="248" y="231.8" width="4" height="2.5"/><rect x="243" y="268.3" width="4" height="2.5"/><rect x="243" y="304.6" width="4" height="2.5"/><rect x="299" y="340.3" width="4" height="2.5"/><rect x="307" y="340.3" width="4" height="2.5"/><rect x="299" y="376.3" width="4" height="2.5"/><rect x="307" y="376.3" width="4" height="2.5"/><rect x="299" y="412.3" width="4" height="2.5"/><rect x="307" y="412.3" width="4" height="2.5"/></g><g stroke="#0b14ee" stroke-width="1.9" fill="none"><path d="M216 125V274"/><path d="M228.7 125V165"/><path d="M234.7 125V165"/><path d="M241.3 125V165"/><path d="M225.4 161V200"/><path d="M233 161V274"/><path d="M237.5 161V200"/><path d="M228 197.3H301.8"/><path d="M237.5 232.7H301.8"/><path d="M228 269H301.8"/><path d="M228 305.6H293.5"/><path d="M283 197.3V381"/><path d="M292.5 197.3V381"/><path d="M300.8 197.3V381"/><path d="M291 341.3H342"/><path d="M291 377.3H342"/><path d="M291 413.3H342"/><path d="M341 341.3V416"/></g><g fill="#0b14ee"><path d="M216 168l-3.2 -5h6.4z"/><path d="M216 240.5l-3.2 -5h6.4z"/><path d="M216 277l-3.2 -5h6.4z"/><path d="M228.7 168l-3.2 -5h6.4z"/><path d="M234.7 168l-3.2 -5h6.4z"/><path d="M241.3 168l-3.2 -5h6.4z"/><path d="M225.4 204l-3.2 -5h6.4z"/><path d="M233 240.5l-3.2 -5h6.4z"/><path d="M231.8 277l-3.2 -5h6.4z"/><path d="M237.5 204l-3.2 -5h6.4z"/><path d="M283 312.5l-3.2 -5h6.4z"/><path d="M283 348.5l-3.2 -5h6.4z"/><path d="M283 384.5l-3.2 -5h6.4z"/><path d="M292.5 312.5l-3.2 -5h6.4z"/><path d="M292.5 348.5l-3.2 -5h6.4z"/><path d="M292.5 384.5l-3.2 -5h6.4z"/><path d="M300.8 312.5l-3.2 -5h6.4z"/><path d="M300.8 348.5l-3.2 -5h6.4z"/><path d="M300.8 384.5l-3.2 -5h6.4z"/><path d="M341 420.5l-3.2 -5h6.4z"/></g><g fill="#18f018"><rect x="209.3" y="122.8" width="4.5" height="4.5"/><rect x="225.8" y="122.8" width="4.5" height="4.5"/><rect x="232.0" y="122.8" width="4.5" height="4.5"/><rect x="238.8" y="122.8" width="4.5" height="4.5"/><rect x="223.20000000000002" y="159.10000000000002" width="4.5" height="4.5"/><rect x="229.0" y="159.10000000000002" width="4.5" height="4.5"/><rect x="235.3" y="159.10000000000002" width="4.5" height="4.5"/><rect x="225.8" y="195.10000000000002" width="4.5" height="4.5"/><rect x="235.3" y="230.5" width="4.5" height="4.5"/><rect x="225.8" y="266.8" width="4.5" height="4.5"/><rect x="225.8" y="303.40000000000003" width="4.5" height="4.5"/><rect x="287.8" y="339.1" width="4.5" height="4.5"/><rect x="287.8" y="375.1" width="4.5" height="4.5"/><rect x="287.8" y="411.1" width="4.5" height="4.5"/></g><g fill="none" stroke="#e61414" style="filter:drop-shadow(.8px .8px .8px rgba(60,60,60,.45))"><rect x="378.3" y="346.8" width="195" height="37.2" stroke-width="2.3"/><rect x="340" y="420" width="83" height="30" stroke-width="1.6"/><rect x="333.6" y="427" width="5.6" height="13.5" stroke-width="1.4"/><path d="M416.3 385L447.3 551" stroke-width="2.2"/><path d="M449.6 562.4L441.6 550.2L452.4 548.2z" fill="#e61414" stroke="none"/></g></svg>
<div id="note">连铸：材质连续，大小订单组炉生产<br>连铸为中心，排产前拉（转炉，精炼炉）后推（热轧）</div>
<div id="bot"></div>
</div></body></html>
